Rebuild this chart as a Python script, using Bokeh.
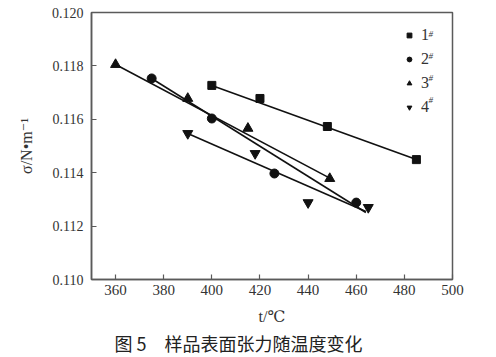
from bokeh.plotting import figure
from bokeh.models import (FixedTicker, NumeralTickFormatter, Legend, LegendItem,
                          Label, Title, Range1d)
from bokeh.embed import file_html
from bokeh.resources import INLINE

# ---- data ----
temp_1 = [400, 420, 448, 485]
sigma_1 = [0.11727, 0.11678, 0.11573, 0.11449]
temp_2 = [375, 400, 426, 460]
sigma_2 = [0.11753, 0.11603, 0.11397, 0.11288]
temp_3 = [360, 390, 415, 449]
sigma_3 = [0.11805, 0.11678, 0.11566, 0.11378]
temp_4 = [390, 418, 440, 465]
sigma_4 = [0.11547, 0.11472, 0.11288, 0.11270]

fit_t_1 = [400, 485]
fit_s_1 = [0.11727, 0.11449]
fit_t_2 = [375, 464]
fit_s_2 = [0.11753, 0.11251]
fit_t_3 = [360, 450]
fit_s_3 = [0.11805, 0.11375]
fit_t_4 = [390, 464]
fit_s_4 = [0.11547, 0.11255]

series_labels = ["1", "2", "3", "4"]
x_ticks = [360, 380, 400, 420, 440, 460, 480, 500]
y_ticks = [0.110, 0.112, 0.114, 0.116, 0.118, 0.120]
caption = "图 5\u3000样品表面张力随温度变化"

SERIF = "'Liberation Serif', 'DejaVu Serif', serif"
AX = "#5a5a5a"

p = figure(width=496, height=357, output_backend="svg", toolbar_location=None,
           x_range=Range1d(350, 500), y_range=Range1d(0.110, 0.120),
           min_border_left=91, min_border_right=44, min_border_top=12,
           min_border_bottom=78)
p.background_fill_color = "white"
p.border_fill_color = "white"
p.outline_line_color = AX
p.outline_line_width = 1.5
p.xgrid.visible = False
p.ygrid.visible = False

for ax in (p.xaxis[0], p.yaxis[0]):
    ax.axis_line_color = AX
    ax.axis_line_width = 1.5
    ax.major_tick_line_color = AX
    ax.major_tick_line_width = 1.2
    ax.major_tick_in = 5
    ax.major_tick_out = 0
    ax.minor_tick_line_color = None
    ax.major_label_text_font = SERIF
    ax.major_label_text_font_size = "15px"
    ax.major_label_text_color = "#333333"
    ax.axis_label_text_font = SERIF
    ax.axis_label_text_font_size = "16px"
    ax.axis_label_text_font_style = "normal"
    ax.axis_label_text_color = "#333333"

p.xaxis.ticker = FixedTicker(ticks=x_ticks)
p.yaxis.ticker = FixedTicker(ticks=y_ticks)
p.yaxis.formatter = NumeralTickFormatter(format="0.000")
p.yaxis.major_label_text_font_size = "14px"
p.xaxis.major_label_standoff = 5
p.yaxis.major_label_standoff = 8
p.xaxis.axis_label = "t/℃"
p.yaxis.axis_label = "σ/N•m⁻¹"
p.xaxis.axis_label_standoff = 10
p.yaxis.axis_label_standoff = 14

# fit lines
for ft, fs in ((fit_t_1, fit_s_1), (fit_t_2, fit_s_2), (fit_t_3, fit_s_3), (fit_t_4, fit_s_4)):
    p.line(ft, fs, line_color="#111111", line_width=1.6)

r1 = p.scatter(temp_1, sigma_1, marker="square", size=8, color="#111111")
r2 = p.scatter(temp_2, sigma_2, marker="circle", size=9, color="#111111")
r3 = p.scatter(temp_3, sigma_3, marker="triangle", size=10, color="#111111")
r4 = p.scatter(temp_4, sigma_4, marker="inverted_triangle", size=10, color="#111111")

legend = Legend(items=[LegendItem(label=lab, renderers=[r]) for lab, r in
                       zip(series_labels, (r1, r2, r3, r4))],
                location=(312, 163), padding=0, spacing=6, margin=0,
                glyph_width=12, glyph_height=12, label_standoff=6,
                label_height=16, label_text_font=SERIF,
                label_text_font_size="16px", label_text_color="#333333",
                border_line_color=None, background_fill_alpha=0)
p.add_layout(legend)

for i in range(4):
    p.add_layout(Label(x=337, y=251 - 22 * i, x_units="screen", y_units="screen",
                       text="#", text_font=SERIF, text_font_size="9px",
                       text_font_style="italic", text_baseline="top",
                       text_color="#333333"))

p.add_layout(Title(text=caption, align="left", offset=23, standoff=1,
                   text_font="Noto Sans CJK SC",
                   text_font_size="18px", text_font_style="normal",
                   text_color="#222222"), "below")

open("out.html", "w").write(file_html(p, INLINE))
